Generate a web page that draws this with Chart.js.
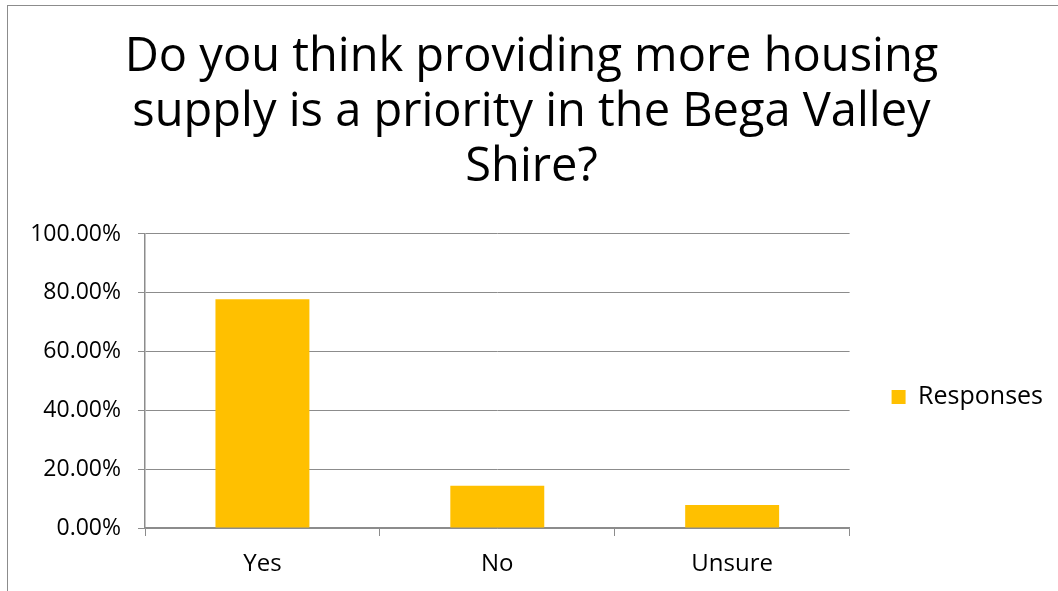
<!DOCTYPE html>
<html>
<head>
<meta charset="utf-8">
<script src="https://cdn.jsdelivr.net/npm/chart.js@4"></script>
<style>
  html, body { margin: 0; padding: 0; background: #fff; }
  #frame {
    position: absolute; left: 7px; top: 5px; width: 1051px; height: 586px;
    border-left: 1px solid #8c8c8c; border-top: 1px solid #8c8c8c;
  }
  #wrap { position: absolute; left: 0; top: 0; width: 1058px; height: 591px; }
</style>
</head>
<body>
<div id="frame"></div>
<div id="wrap"><canvas id="myChart"></canvas></div>
<script>
// data
var categories = ["Yes", "No", "Unsure"];
var responses = [77.8, 14.4, 7.8];
var seriesName = "Responses";
var titleLines = ["Do you think providing more housing", "supply is a priority in the Bega Valley", "Shire?"];

var font = "'Open Sans', 'Lato', sans-serif";
var gray = "#8c8c8c";

// move the legend down so it sits about halfway down the plot, like excel
var centerLegend = {
    id: "centerLegend",
    beforeDraw: function(chart) {
        var lg = chart.legend;
        var area = chart.chartArea;
        var h = lg.bottom - lg.top;
        var mid = (area.top + area.bottom) / 2 + 16;
        lg.top = mid - h / 2;
        lg.bottom = lg.top + h;
    }
};

let ctx = document.getElementById("myChart").getContext("2d");

let barChart = new Chart(ctx, {
    type: "bar",
    data: {
        labels: categories,
        datasets: [{
            label: seriesName,
            data: responses,
            backgroundColor: "#FFC000",
            borderWidth: 0,
            barPercentage: 0.4,
            categoryPercentage: 1
        }]
    },
    options: {
        responsive: true,
        maintainAspectRatio: false,
        animation: false,
        layout: {
            padding: { top: 30, left: 10, right: 5, bottom: 0 }
        },
        plugins: {
            title: {
                display: true,
                text: titleLines,
                color: "#000",
                font: { family: font, size: 47, weight: "normal", lineHeight: 1.17 },
                padding: { top: 0, bottom: 39 }
            },
            legend: {
                position: "right",
                labels: {
                    boxWidth: 14,
                    boxHeight: 14,
                    padding: 42,
                    color: "#000",
                    font: { family: font, size: 25 }
                }
            },
            tooltip: { enabled: false }
        },
        scales: {
            x: {
                afterFit: function(scale) { scale.height = 63; },
                grid: {
                    drawOnChartArea: false,
                    drawTicks: true,
                    tickLength: 8,
                    color: gray
                },
                border: { color: gray, width: 1.5 },
                ticks: {
                    color: "#000",
                    padding: 14,
                    font: { family: font, size: 24 }
                }
            },
            y: {
                min: 0,
                max: 100,
                afterFit: function(scale) { scale.width = 135; },
                grid: {
                    color: gray,
                    tickLength: 7
                },
                border: { color: gray, width: 1.5 },
                ticks: {
                    stepSize: 20,
                    color: "#000",
                    padding: 17,
                    font: { family: font, size: 23 },
                    callback: function(value) {
                        return value.toFixed(2) + "%";
                    }
                }
            }
        }
    },
    plugins: [centerLegend]
});
</script>
</body>
</html>
